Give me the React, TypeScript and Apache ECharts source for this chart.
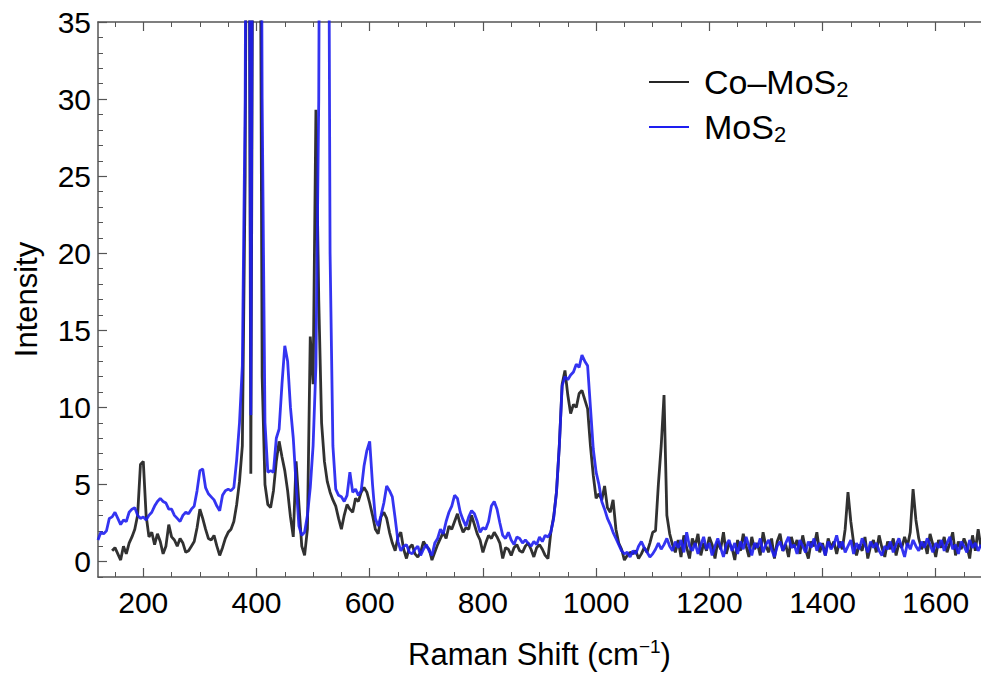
import { useEffect, useRef } from "react";
import * as echarts from "echarts";

// Raman shift sampling grid (cm^-1)
const SHIFT_START = 120;
const SHIFT_STEP = 5;

// Co–MoS2 intensity, one value per grid point (rows of 100 cm^-1)
const coMoS2: (number | null)[] = [
  null, null, null, null, null, 0.7, 0.9, 0.5, 0.1, 1.0, 0.5, 1.2, 1.6, 2.1, 3.0, 6.3, 6.5, 3.0, 1.6, 1.9, // 120-215
  1.1, 1.8, 1.3, 0.5, 1.0, 2.4, 1.6, 1.4, 1.0, 1.5, 1.2, 0.6, 0.7, 1.0, 1.3, 2.2, 3.4, 2.8, 2.1, 1.5, // 220-315
  1.4, 1.7, 1.0, 0.4, 0.9, 1.5, 1.9, 2.1, 2.6, 3.7, 5.2, 7.5, 25, 70, 5.7, 60, 80, 60, 12, 5.0, // 320-415
  3.7, 3.5, 4.6, 6.5, 7.8, 6.8, 5.9, 4.6, 2.9, 1.6, 6.5, 3.7, 1.0, 0.4, 2.1, 14.6, 11.5, 29.3, 17, 9, // 420-515
  6.5, 5.2, 4.5, 4.0, 3.6, 2.8, 2.1, 3.0, 3.7, 3.4, 3.2, 4.1, 3.9, 4.5, 4.8, 4.5, 3.8, 3.0, 2.1, 1.8, // 520-615
  2.9, 3.2, 2.8, 1.9, 1.2, 0.7, 1.6, 1.9, 0.8, 0.2, 0.9, 1.1, 0.5, 0.3, 0.6, 1.3, 1.0, 0.8, 0.1, 0.6, // 620-715
  1.1, 1.5, 1.9, 1.5, 2.3, 2.1, 2.6, 3.1, 2.4, 1.9, 2.2, 2.1, 3.0, 2.4, 1.8, 1.4, 0.6, 1.2, 1.7, 1.5, // 720-815
  1.9, 1.6, 1.2, 0.2, 0.9, 0.8, 0.4, 0.9, 1.1, 0.7, 0.6, 1.0, 1.2, 0.8, 0.3, 0.9, 1.1, 0.8, 0.4, 0.2, // 820-915
  1.9, 2.9, 4.5, 7.5, 11.5, 12.4, 10.8, 9.6, 10.2, 10.0, 10.9, 11.1, 10.5, 9.9, 7.5, 5.6, 4.1, 4.4, 4.0, 4.9, // 920-1015
  3.5, 3.2, 4.0, 2.1, 1.2, 0.8, 0.1, 0.4, 0.6, 0.5, 0.7, 0.2, 0.5, 0.9, 0.6, 1.2, 1.9, 2.0, 5.0, 7.5, // 1020-1115
  10.8, 3.0, 1.8, 1.1, 0.6, 1.4, 0.3, 1.7, 0.9, 0.2, 1.5, 1.0, 1.8, 0.4, 1.2, 0.7, 1.6, 1.1, 0.2, 1.3, // 1120-1215
  0.8, 1.9, 0.5, 1.2, 0.9, 0.1, 1.4, 0.7, 1.8, 1.0, 0.3, 1.6, 0.8, 1.2, 0.4, 1.9, 1.0, 0.6, 1.5, 0.2, // 1220-1315
  1.3, 1.8, 0.7, 1.1, 0.3, 1.6, 0.9, 1.4, 0.5, 1.7, 0.8, 0.2, 1.3, 1.0, 1.9, 0.6, 1.2, 0.4, 1.5, 0.9, // 1320-1415
  1.3, 0.5, 1.3, 0.8, 2.1, 4.5, 2.6, 1.2, 0.4, 1.1, 0.7, 1.6, 0.2, 1.0, 1.4, 0.6, 1.7, 0.9, 0.3, 1.3, // 1420-1515
  0.8, 1.5, 0.4, 1.2, 0.9, 1.6, 1.0, 1.9, 4.7, 2.7, 1.5, 0.8, 1.3, 0.5, 1.8, 1.1, 0.3, 1.4, 0.9, 1.6, // 1520-1615
  0.6, 1.2, 1.9, 0.4, 1.3, 0.8, 1.5, 1.0, 0.2, 1.7, 0.7, 2.1, 0.9, // 1620-1680
];

// MoS2 intensity, one value per grid point (rows of 100 cm^-1)
const moS2: (number | null)[] = [
  1.4, 1.9, 1.8, 2.0, 2.8, 2.9, 3.2, 2.8, 2.4, 2.7, 2.6, 3.2, 3.4, 3.5, 3.0, 2.8, 2.9, 2.7, 3.0, 3.2, // 120-215
  3.6, 3.9, 4.1, 3.9, 3.8, 3.4, 3.4, 3.0, 2.8, 2.6, 3.0, 3.2, 3.1, 3.4, 3.6, 4.6, 5.9, 6.0, 4.8, 4.4, // 220-315
  4.2, 4.0, 3.6, 3.3, 4.3, 4.6, 4.7, 4.6, 4.8, 6.6, 9.0, 12.7, 30, 80, 9.5, 70, 90, 80, 30, 9.0, // 320-415
  5.8, 5.9, 5.8, 8.0, 8.6, 11.5, 14.0, 13.0, 10.0, 8.0, 5.0, 2.3, 1.7, 1.9, 3.0, 4.8, 7.5, 12.7, 30, 80, // 420-515
  60, 70, 20, 7.5, 4.7, 4.3, 4.2, 3.9, 4.3, 5.8, 4.5, 4.7, 4.3, 4.6, 6.2, 7.2, 7.8, 5.0, 2.8, 2.3, // 520-615
  3.0, 3.8, 4.9, 4.6, 4.2, 2.8, 1.3, 0.7, 1.0, 1.1, 0.6, 0.5, 0.8, 1.0, 0.4, 0.8, 1.1, 0.7, 0.4, 1.2, // 620-715
  1.5, 2.1, 1.8, 2.6, 3.2, 3.6, 4.3, 4.1, 3.2, 2.7, 2.3, 2.9, 3.3, 3.1, 2.6, 1.9, 2.2, 2.1, 2.6, 3.6, // 720-815
  3.9, 3.4, 2.5, 1.7, 1.5, 1.9, 1.4, 1.1, 1.6, 1.5, 1.2, 1.4, 1.2, 1.0, 1.3, 1.1, 1.6, 1.3, 1.7, 1.6, // 820-915
  1.9, 2.8, 4.5, 7.5, 11.4, 12.0, 11.8, 12.1, 12.3, 12.8, 12.6, 13.4, 13.0, 12.7, 10.0, 7.3, 5.8, 5.0, 3.9, 3.4, // 920-1015
  2.8, 2.4, 1.9, 1.5, 1.1, 0.7, 0.5, 0.6, 0.3, 0.7, 0.5, 1.0, 1.3, 0.9, 0.6, 0.3, 0.5, 0.8, 1.2, 0.8, // 1020-1115
  1.1, 1.5, 1.0, 0.7, 1.3, 0.9, 1.4, 0.6, 1.9, 1.0, 0.7, 1.2, 0.5, 1.1, 1.6, 0.8, 1.2, 0.4, 1.0, 1.5, // 1120-1215
  0.9, 0.3, 1.1, 1.4, 0.7, 1.2, 0.5, 1.3, 0.8, 1.6, 1.0, 0.4, 1.2, 0.9, 1.5, 0.6, 1.1, 1.4, 0.8, 0.3, // 1220-1315
  1.0, 1.3, 0.7, 1.2, 1.6, 0.9, 1.1, 0.5, 1.4, 1.0, 0.6, 1.3, 0.9, 1.5, 0.7, 1.2, 1.0, 0.4, 1.3, 0.8, // 1320-1415
  1.1, 1.7, 0.9, 1.3, 0.6, 1.0, 1.4, 0.5, 1.2, 0.8, 1.5, 1.1, 0.6, 1.3, 0.9, 1.2, 0.7, 0.4, 1.0, 0.8, // 1420-1515
  1.3, 0.6, 1.1, 1.5, 0.9, 0.3, 1.2, 0.8, 1.4, 1.0, 0.7, 1.3, 0.9, 1.5, 1.1, 0.6, 1.2, 0.9, 1.4, 0.7, // 1520-1615
  1.2, 1.6, 0.8, 1.1, 0.5, 1.3, 1.0, 0.6, 1.4, 0.9, 1.2, 0.7, 1.1, // 1620-1680
];

const seriesNames = ["Co–MoS2", "MoS2"];
const xMajorTicks = [200, 400, 600, 800, 1000, 1200, 1400, 1600];
const xMinorTicks = [150, 250, 300, 350, 450, 500, 550, 650, 700, 750, 850, 900, 950, 1050, 1100, 1150, 1250, 1300, 1350, 1450, 1500, 1550, 1650];
const yMajorTicks = [0, 5, 10, 15, 20, 25, 30, 35];
const yMinorTicks = [-1, 1, 2, 3, 4, 6, 7, 8, 9, 11, 12, 13, 14, 16, 17, 18, 19, 21, 22, 23, 24, 26, 27, 28, 29, 31, 32, 33, 34];

const X_MIN = 120;
const X_MAX = 1680;
const Y_MIN = -1;
const Y_MAX = 35;

const FONT = "'Liberation Sans', Arial, Helvetica, sans-serif";
const BLACK = "#262626";
const BLUE = "#1e1ef0";
const AXIS = "#555555";

function toPairs(values: (number | null)[]) {
  const out: [number, number][] = [];
  values.forEach((v, i) => {
    if (v !== null) out.push([SHIFT_START + i * SHIFT_STEP, v]);
  });
  return out;
}

export default function App() {
  const ref = useRef<HTMLDivElement>(null);

  useEffect(() => {
    if (!ref.current) return;
    const chart = echarts.init(ref.current, undefined, { renderer: "svg" });

    const xBase = {
      type: "value" as const,
      min: X_MIN,
      max: X_MAX,
      splitLine: { show: false },
      axisLine: { onZero: false, show: false, lineStyle: { color: AXIS, width: 1.5 } },
      axisLabel: { show: false },
    };
    const yBase = {
      type: "value" as const,
      min: Y_MIN,
      max: Y_MAX,
      position: "left" as const,
      splitLine: { show: false },
      axisLine: { onZero: false, show: false, lineStyle: { color: AXIS, width: 1.5 } },
      axisLabel: { show: false },
    };

    const option: any = {
      animation: false,
      backgroundColor: "#ffffff",
      grid: { left: 98, right: 0, top: 22, bottom: 97, containLabel: false },
      legend: {
        orient: "vertical",
        left: 644,
        top: 60,
        itemWidth: 40,
        itemHeight: 2,
        itemGap: 10,
        icon: "rect",
        data: seriesNames,
        formatter: (name: string) =>
          name === "Co–MoS2" ? "{a|Co–MoS}{b|2}" : "{a|MoS}{b|2}",
        textStyle: {
          fontFamily: FONT,
          fontSize: 34,
          color: "#000",
          rich: {
            a: { fontFamily: FONT, fontSize: 34, color: "#000", padding: [0, 0, 0, 10] },
            b: { fontFamily: FONT, fontSize: 22, color: "#000", padding: [14, 0, 0, 0] },
          },
        },
      },
      xAxis: [
        {
          ...xBase,
          position: "bottom",
          axisLine: { onZero: false, show: true, lineStyle: { color: AXIS, width: 1.5 } },
          axisTick: { show: true, inside: true, length: 9, customValues: xMajorTicks, lineStyle: { color: AXIS, width: 1.2 } },
          axisLabel: {
            show: true,
            customValues: xMajorTicks,
            formatter: (v: number) => String(v),
            fontFamily: FONT,
            fontSize: 30,
            color: "#000",
            margin: 10,
          },
          name: "{t|Raman Shift (cm}{s|−1}{t|)}",
          nameLocation: "middle",
          nameGap: 60,
          nameTextStyle: {
            rich: {
              t: { fontFamily: FONT, fontSize: 31, color: "#000" },
              s: { fontFamily: FONT, fontSize: 19, color: "#000", padding: [0, 0, 16, 0] },
            },
          },
        },
        {
          ...xBase,
          position: "bottom",
          axisTick: { show: true, inside: true, length: 5, customValues: xMinorTicks, lineStyle: { color: AXIS, width: 1 } },
        },
        {
          ...xBase,
          position: "top",
          axisLine: { onZero: false, show: true, lineStyle: { color: AXIS, width: 1.5 } },
          axisTick: { show: true, inside: true, length: 9, customValues: xMajorTicks, lineStyle: { color: AXIS, width: 1.2 } },
        },
        {
          ...xBase,
          position: "top",
          axisTick: { show: true, inside: true, length: 5, customValues: xMinorTicks, lineStyle: { color: AXIS, width: 1 } },
        },
      ],
      yAxis: [
        {
          ...yBase,
          axisLine: { onZero: false, show: true, lineStyle: { color: AXIS, width: 1.5 } },
          axisTick: { show: true, inside: true, length: 9, customValues: yMajorTicks, lineStyle: { color: AXIS, width: 1.2 } },
          axisLabel: { show: true, customValues: yMajorTicks, fontFamily: FONT, fontSize: 30, color: "#000", margin: 7 },
          name: "Intensity",
          nameLocation: "middle",
          nameGap: 56,
          nameRotate: 90,
          nameTextStyle: { fontFamily: FONT, fontSize: 31, color: "#000" },
        },
        {
          ...yBase,
          axisTick: { show: true, inside: true, length: 5, customValues: yMinorTicks, lineStyle: { color: AXIS, width: 1 } },
        },
      ],
      series: [
        {
          name: seriesNames[0],
          type: "line",
          xAxisIndex: 0,
          yAxisIndex: 0,
          data: toPairs(coMoS2),
          showSymbol: false,
          clip: true,
          color: BLACK,
          lineStyle: { color: BLACK, width: 2.8, opacity: 0.95 },
          itemStyle: { color: BLACK },
          z: 2,
        },
        {
          name: seriesNames[1],
          type: "line",
          xAxisIndex: 0,
          yAxisIndex: 0,
          data: toPairs(moS2),
          showSymbol: false,
          clip: true,
          color: BLUE,
          lineStyle: { color: BLUE, width: 2.8, opacity: 0.9 },
          itemStyle: { color: BLUE },
          z: 3,
        },
      ],
    };

    chart.setOption(option);
    return () => chart.dispose();
  }, []);

  return (
    <div
      ref={ref}
      style={{ position: "fixed", left: 0, top: 0, width: 981, height: 675, background: "#fff" }}
    />
  );
}
